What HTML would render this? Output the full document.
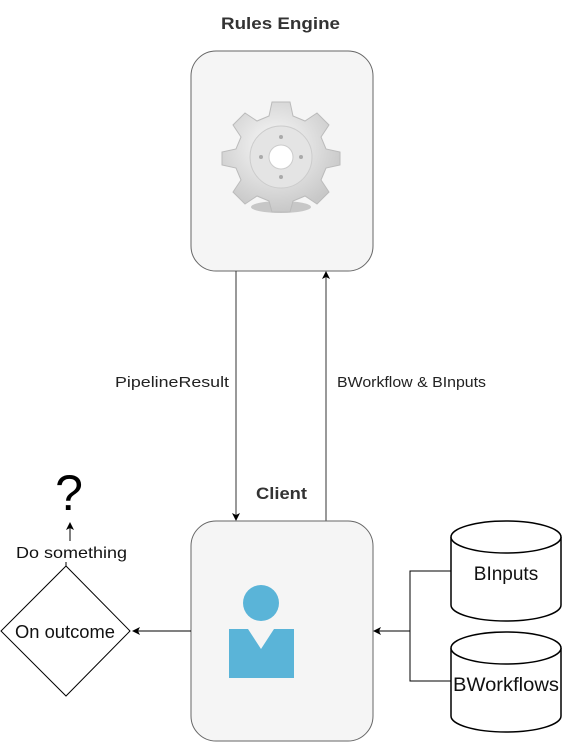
<!DOCTYPE html>
<html><head><style>body{margin:0;background:#fff}</style></head><body>
<svg width="562" height="742" xmlns="http://www.w3.org/2000/svg" font-family="Liberation Sans, Arial, sans-serif">
<defs>
<radialGradient id="g" cx="45%" cy="40%" r="60%"><stop offset="0" stop-color="#fafafa"/><stop offset="1" stop-color="#c8c8c8"/></radialGradient>
<marker id="a" markerWidth="8" markerHeight="8" refX="7" refY="4" orient="auto" markerUnits="userSpaceOnUse"><path d="M0,0 L8,4 L0,8 L2,4z" fill="#000"/></marker>
</defs>
<text x="221" y="29" textLength="119" lengthAdjust="spacingAndGlyphs" font-weight="bold" font-size="17" fill="#333">Rules Engine</text>
<rect x="191" y="51" width="182" height="220" rx="25" fill="#f5f5f5" stroke="#666"/>
<ellipse cx="281" cy="207" rx="30" ry="6" fill="#999" opacity="0.5"/>
<g transform="translate(281,157)">
<path d="M-9,-50 L9,-50 L12,-36 L24,-31 L36,-39 L48,-27 L40,-15 L45,-3 L59,0 L59,0 L59,13 L45,16 L40,28 L48,40 L36,52 L24,44 L12,49 L9,60 L-9,60 L-12,49 L-24,44 L-36,52 L-48,40 L-40,28 L-45,16 L-59,13 L-59,0 L-45,-3 L-40,-15 L-48,-27 L-36,-39 L-24,-31 L-12,-36Z" transform="translate(0,-5)" fill="url(#g)" stroke="#bbb"/>
<circle r="31" fill="#e4e4e4" stroke="#ccc"/>
<circle r="12" fill="#fff" stroke="#ccc"/>
<circle cy="-20" r="2" fill="#aaa"/><circle cy="20" r="2" fill="#aaa"/><circle cx="-20" r="2" fill="#aaa"/><circle cx="20" r="2" fill="#aaa"/>
</g>
<line x1="236" y1="271" x2="236" y2="520" stroke="#333" marker-end="url(#a)"/>
<line x1="326" y1="521" x2="326" y2="272" stroke="#333" marker-end="url(#a)"/>
<rect x="110" y="370" width="125" height="22" fill="#fff"/>
<text x="115" y="387" textLength="114" lengthAdjust="spacingAndGlyphs" font-size="15" fill="#222">PipelineResult</text>
<rect x="327" y="370" width="162" height="22" fill="#fff"/>
<text x="337" y="387" textLength="149" lengthAdjust="spacingAndGlyphs" font-size="15" fill="#222">BWorkflow &amp; BInputs</text>
<text x="256" y="499" textLength="51" lengthAdjust="spacingAndGlyphs" font-weight="bold" font-size="17" fill="#333">Client</text>
<rect x="191" y="521" width="182" height="220" rx="25" fill="#f5f5f5" stroke="#666"/>
<circle cx="261" cy="603" r="18" fill="#5ab4d8"/>
<path d="M229,629 L248,629 L261,649 L274,629 L294,629 L294,678 L229,678Z" fill="#5ab4d8"/>
<line x1="191" y1="631" x2="133" y2="631" stroke="#000" marker-end="url(#a)"/>
<path d="M66,566 L130,631 L66,696 L1,631Z" fill="#fff" stroke="#000"/>
<text x="15" y="638" textLength="100" lengthAdjust="spacingAndGlyphs" font-size="18" fill="#111">On outcome</text>
<line x1="66" y1="566" x2="66" y2="562" stroke="#000"/>
<text x="16" y="558" textLength="111" lengthAdjust="spacingAndGlyphs" font-size="16" fill="#111">Do something</text>
<line x1="70" y1="541" x2="70" y2="523" stroke="#000" marker-end="url(#a)"/>
<text x="69" y="510" text-anchor="middle" font-size="50" fill="#000">?</text>
<path d="M451,571 L410,571 L410,681 L451,681 M410,631 L374,631" fill="none" stroke="#000" marker-end="url(#a)"/>
<g fill="#fff" stroke="#000" stroke-width="1.5">
<path d="M451,537 A55,16 0 0 1 561,537 L561,605 A55,16 0 0 1 451,605Z"/>
<path d="M451,537 A55,16 0 0 0 561,537"/>
<path d="M451,648 A55,16 0 0 1 561,648 L561,716 A55,16 0 0 1 451,716Z"/>
<path d="M451,648 A55,16 0 0 0 561,648"/>
</g>
<text x="506" y="580" text-anchor="middle" font-size="19" fill="#111">BInputs</text>
<text x="506" y="691" text-anchor="middle" textLength="106" lengthAdjust="spacingAndGlyphs" font-size="19" fill="#111">BWorkflows</text>
</svg>
</body></html>
